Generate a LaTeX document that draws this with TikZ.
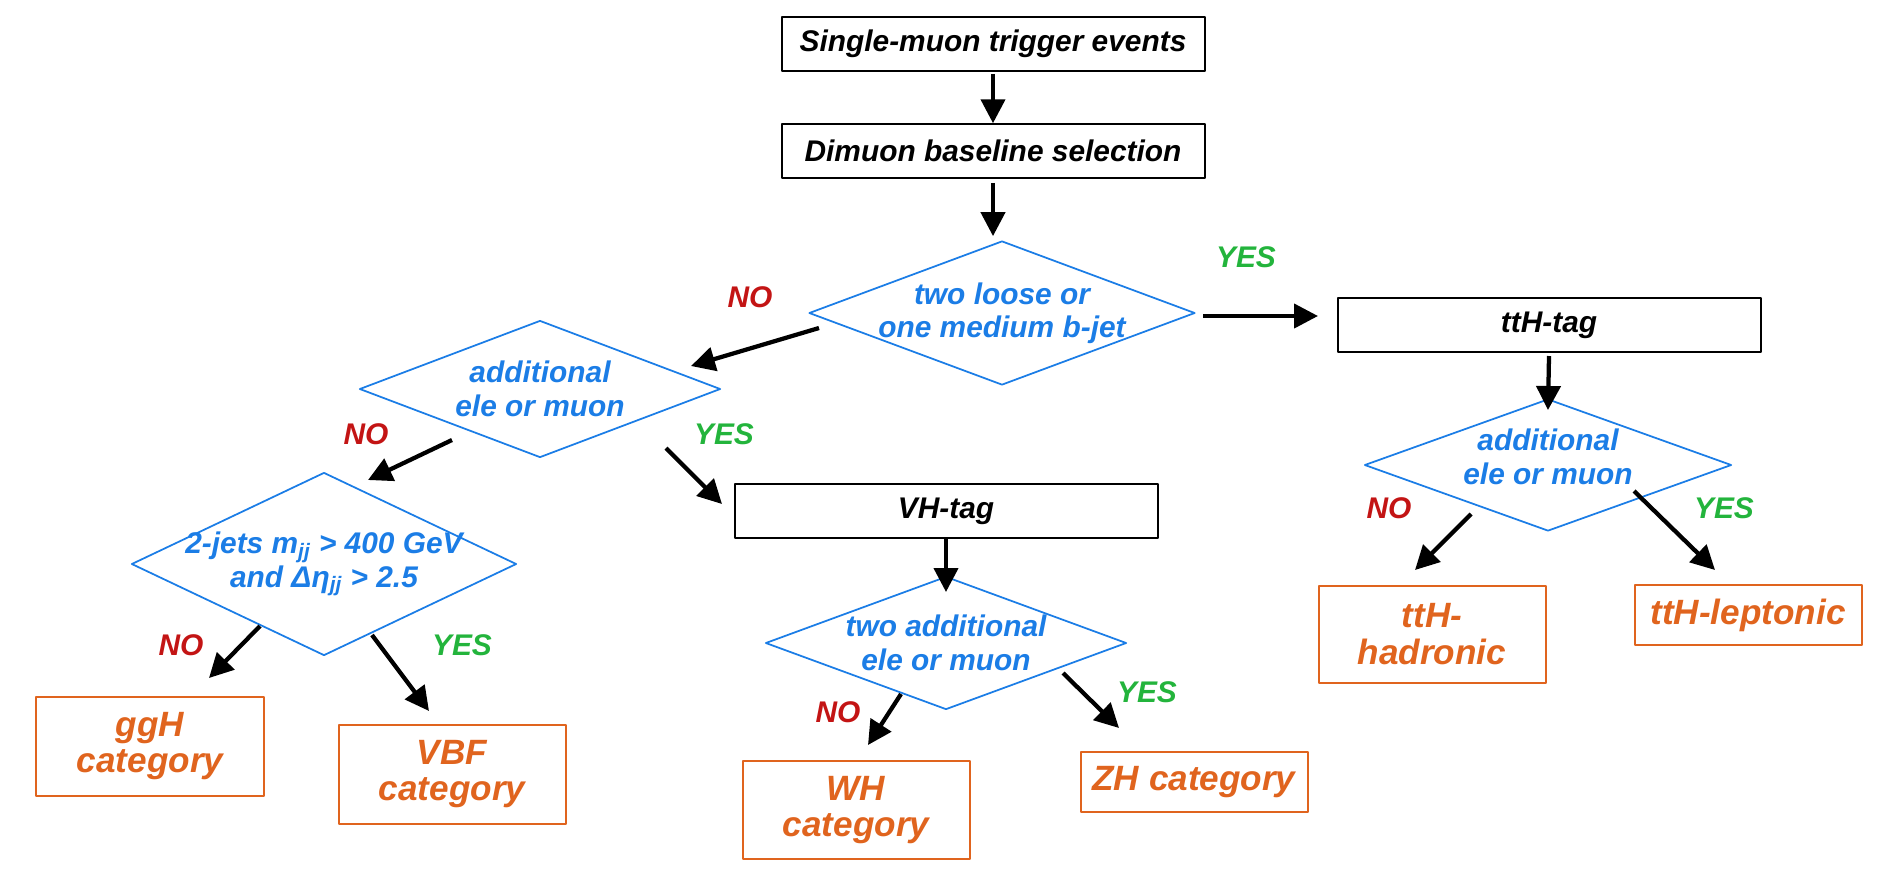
\documentclass[tikz,border=0pt]{standalone}
\usepackage{fontspec}
\setmainfont{Liberation Sans}
\usetikzlibrary{shapes.geometric,arrows.meta}
\definecolor{decblue}{RGB}{27,125,230}
\definecolor{catorange}{RGB}{224,100,30}
\definecolor{nored}{RGB}{195,20,20}
\definecolor{yesgreen}{RGB}{35,180,60}
\begin{document}
\begin{tikzpicture}[x=0.2mm,y=-0.2mm,line join=round,
	>={Triangle[length=4.8mm,width=4.8mm]},
	font=\fontsize{17}{19}\selectfont\bfseries\itshape,
	tagbox/.style={draw,line width=0.4mm,minimum width=84.6mm,minimum height=10.7mm,inner sep=0pt},
	decision/.style={diamond,draw=decblue,line width=0.35mm,inner sep=0pt},
	dectext/.style={text=decblue,align=center,inner sep=0pt},
	catbox/.style={draw=catorange,line width=0.4mm,text=catorange,align=center,minimum width=45.4mm,inner sep=0pt,font=\fontsize{20}{21}\selectfont\bfseries\itshape},
	nolab/.style={text=nored,inner sep=0pt},
	yeslab/.style={text=yesgreen,inner sep=0pt},
	arr/.style={->,line width=0.85mm}]
	\useasboundingbox (0,0) rectangle (1890,888);
	% boxes
	\node[tagbox] (trig) at (993,44) {Single-muon trigger events};
	\node[tagbox] (dimu) at (993,151) {Dimuon baseline selection};
	\node[tagbox] (tthtag) at (1549,325) {ttH-tag};
	\node[tagbox] (vhtag) at (946,511) {VH-tag};
	% decisions
	\node[decision,minimum width=77.2mm,minimum height=28.8mm] (bjet) at (1002,313) {};
	\node[dectext] (bjettxt) at (bjet.center) {two loose or\\one medium b-jet};
	\node[decision,minimum width=72.2mm,minimum height=27.4mm] (addlep) at (540,389) {};
	\node[dectext] (addleptxt) at (addlep.center) {additional\\ele or muon};
	\node[decision,minimum width=77mm,minimum height=36.6mm] (vbfcut) at (324,564) {};
	\node[dectext] (vbfcuttxt) at (vbfcut.center) {2-jets m\textsubscript{jj} > 400 GeV\\and Δη\textsubscript{jj} > 2.5};
	\node[decision,minimum width=73.4mm,minimum height=26.4mm] (tthlep) at (1548,465) {};
	\node[dectext] (tthleptxt) at ([shift={(0,-8)}]tthlep.center) {additional\\ele or muon};
	\node[decision,minimum width=72.2mm,minimum height=26.6mm] (twolep) at (946,643) {};
	\node[dectext] (twoleptxt) at (twolep.center) {two additional\\ele or muon};
	% categories
	\node[catbox,minimum height=19.8mm] (ggh) at (150,746) {ggH\\category};
	\node[catbox,minimum height=19.8mm] (vbf) at (452,774) {VBF\\category};
	\node[catbox,minimum height=19.6mm] (wh) at (856,810) {WH\\category};
	\node[catbox,minimum height=12mm] (zh) at (1194,782) {ZH category};
	\node[catbox,minimum height=19.4mm] (hadr) at (1432,634) {ttH-\\hadronic};
	\node[catbox,minimum height=12mm] (lept) at (1748,615) {ttH-leptonic};
	% arrows
	\draw[arr,shorten <=0.4mm] (trig.south) -- (dimu.north);
	\draw[arr,shorten <=0.8mm,shorten >=0.8mm] (dimu.south) -- (dimu.south |- bjet.north);
	\foreach \a/\ax/\ay/\b/\bx/\by in {
		bjet/-183/15/addlep/151/-23,
		bjet/201/3/tthtag/-231/-9,
		tthtag/0/31/tthlep/0/-55,
		tthlep/-77/49/hadr/-17/-64,
		tthlep/86/26/lept/-33/-45,
		addlep/-88/51/vbfcut/44/-84,
		addlep/126/59/vhtag/-224/-7,
		vhtag/0/27/twolep/0/-51,
		twolep/-45/51/wh/12/-65,
		twolep/117/30/zh/-75/-54,
		vbfcut/-64/62/ggh/59/-68,
		vbfcut/48/71/vbf/-23/-63}
		\draw[arr] ([shift={(\ax,\ay)}]\a.center) -- ([shift={(\bx,\by)}]\b.center);
	% answers
	\foreach \n/\x/\y in {no1/750/297,no2/366/434,no3/181/645,no4/838/712,no5/1389/508}
		\node[nolab] (\n) at (\x,\y) {NO};
	\foreach \n/\x/\y in {yes1/1246/257,yes2/724/434,yes3/462/645,yes4/1147/692,yes5/1724/508}
		\node[yeslab] (\n) at (\x,\y) {YES};
\end{tikzpicture}
\end{document}
